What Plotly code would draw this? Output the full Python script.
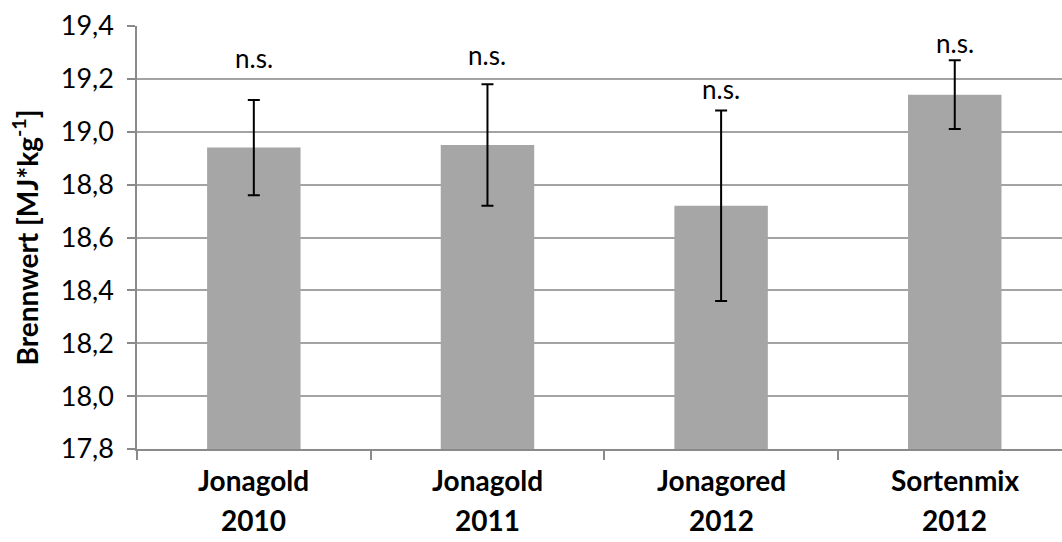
import plotly.graph_objects as go

# Calorific value per apple batch (mean ± standard deviation)
varieties = ["Jonagold", "Jonagold", "Jonagored", "Sortenmix"]
years = ["2010", "2011", "2012", "2012"]
means = [18.94, 18.95, 18.72, 19.14]
errors = [0.18, 0.23, 0.36, 0.13]
sig_labels = ["n.s.", "n.s.", "n.s.", "n.s."]
sig_label_y = [19.28, 19.29, 19.16, 19.335]
y_ticks = [17.8, 18.0, 18.2, 18.4, 18.6, 18.8, 19.0, 19.2, 19.4]

categories = [f"{v} {y}" for v, y in zip(varieties, years)]
tick_text = [f"{t:.1f}".replace(".", ",") for t in y_ticks]

FONT = "Lato"
GRID = "#a3a3a3"
AXIS = "#8a8a8a"

fig = go.Figure()
fig.add_trace(go.Bar(
    x=categories,
    y=[m - y_ticks[0] for m in means],
    base=y_ticks[0],
    width=0.4,
    marker=dict(color="#a6a6a6", line=dict(width=0)),
    error_y=dict(type="data", array=errors, visible=True,
                 color="black", thickness=2, width=6),
    hoverinfo="skip",
))

# significance labels above the bars
for c, txt, yy in zip(categories, sig_labels, sig_label_y):
    fig.add_annotation(x=c, y=yy, text=txt, showarrow=False,
                       xanchor="center", yanchor="middle",
                       font=dict(family=FONT, size=26, color="black"))

# two-line category labels under the axis
for c, v, yr in zip(categories, varieties, years):
    fig.add_annotation(x=c, y=0, yref="paper", text=f"<b>{v}</b>",
                       showarrow=False, xanchor="center", yanchor="middle",
                       yshift=-31, font=dict(family=FONT, size=28, color="black"))
    fig.add_annotation(x=c, y=0, yref="paper", text=f"<b>{yr}</b>",
                       showarrow=False, xanchor="center", yanchor="middle",
                       yshift=-71, font=dict(family=FONT, size=28, color="black"))

fig.update_layout(
    width=1062, height=542,
    margin=dict(l=137, r=0, t=26, b=93, pad=0),
    plot_bgcolor="white", paper_bgcolor="white",
    showlegend=False,
    bargap=0.6,
    font=dict(family=FONT, color="black"),
)

fig.update_xaxes(
    type="category",
    categoryorder="array", categoryarray=categories,
    range=[-0.5, 3.459],
    showticklabels=False,
    ticks="outside", tickson="boundaries", ticklen=9,
    tickcolor=AXIS, tickwidth=1.5,
    showline=True, linecolor=AXIS, linewidth=1.5,
    showgrid=False, zeroline=False,
)

fig.update_yaxes(
    range=[17.8, 19.4],
    tickvals=y_ticks, ticktext=tick_text,
    tickfont=dict(family=FONT, size=27, color="black"),
    ticks="outside", ticklen=8, tickcolor=AXIS, tickwidth=1.5,
    ticklabelstandoff=8,
    showline=True, linecolor=AXIS, linewidth=1.5,
    showgrid=True, gridcolor=GRID, gridwidth=1.5,
    zeroline=False,
    title=dict(text="<b>Brennwert [MJ*kg<sup>-1</sup>]</b>",
               font=dict(family=FONT, size=28, color="black"),
               standoff=14),
    automargin=False,
)

fig.write_html("out.html")
